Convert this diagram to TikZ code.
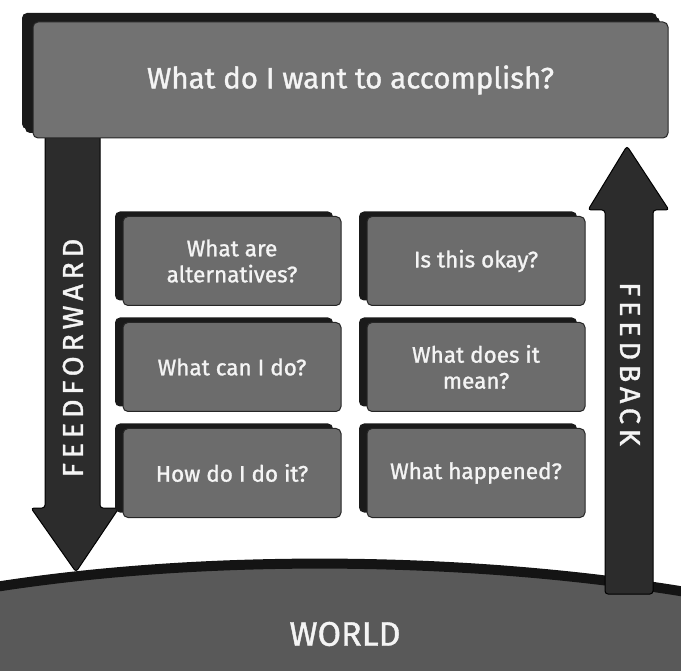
\documentclass[tikz,border=0pt]{standalone}
\usepackage{fontspec}
\setmainfont{Fira Sans}[FakeBold=1.2]
\newfontfamily\labelfont{Fira Sans}[FakeBold=1.2, LetterSpace=16]
\usetikzlibrary{shadows}
\definecolor{boxgray}{HTML}{6C6C6C}
\definecolor{topgray}{HTML}{727272}
\definecolor{shadowc}{HTML}{1A1A1A}
\definecolor{arrowc}{HTML}{2C2C2C}
\definecolor{worldc}{HTML}{595959}
\definecolor{txt}{HTML}{F4F4F4}
\begin{document}
\begin{tikzpicture}[x=1pt,y=-1pt,
  qbox/.style={draw=black!85, line width=1pt, fill=boxgray, rounded corners=5pt,
    minimum width=218pt, minimum height=89pt, align=center, text=txt, inner sep=2pt,
    font=\fontsize{22.5}{26}\selectfont,
    general shadow={fill=shadowc, shadow xshift=-8pt, shadow yshift=5pt}},
  topbox/.style={qbox, fill=topgray, minimum width=635pt, minimum height=116pt,
    font=\fontsize{29.5}{32}\selectfont,
    general shadow={fill=shadowc, shadow xshift=-11pt, shadow yshift=9pt}},
  fatarrow/.style={fill=arrowc, draw=black, line width=1pt, rounded corners=3pt},
  arrowtext/.style={text=txt, font=\labelfont\fontsize{29}{29}\selectfont},
]
\useasboundingbox (0,0) rectangle (681,671);
% world
\fill[worldc] (-5,587) .. controls (200,555) and (460,555) .. (686,592) -- (686,680) -- (-5,680) -- cycle;
\draw[line width=10pt, black!92] (-5,587) .. controls (200,555) and (460,555) .. (686,592);
% arrows
\draw[fatarrow] (45,130) -- (45,508) -- (31,508) -- (76,572) -- (119,508) -- (100,508) -- (100,130) -- cycle;
\draw[fatarrow] (605,594) -- (605,210) -- (588,210) -- (627,146) -- (669,210) -- (653,210) -- (653,594) -- cycle;
% top box
\node[topbox] (goal) at (350.5,80) {What do I want to accomplish?};
% question boxes
\node[qbox] (alt)  at (232,261) {What are\\alternatives?};
\node[qbox] (okay) at (476,261) {Is this okay?};
\node[qbox] (can)  at (232,367) {What can I do?};
\node[qbox] (mean) at (476,367) {What does it\\mean?};
\node[qbox] (how)  at (232,473) {How do I do it?};
\node[qbox] (hap)  at (476,473) {What happened?};
% labels
\node[arrowtext, rotate=90] (ff) at (73,358) {FEEDFORWARD};
\node[arrowtext, rotate=-90] (fb) at (630,364) {FEEDBACK};
\node[text=txt, font=\fontsize{34}{34}\selectfont] (world) at (345,634) {WORLD};
\end{tikzpicture}
\end{document}
